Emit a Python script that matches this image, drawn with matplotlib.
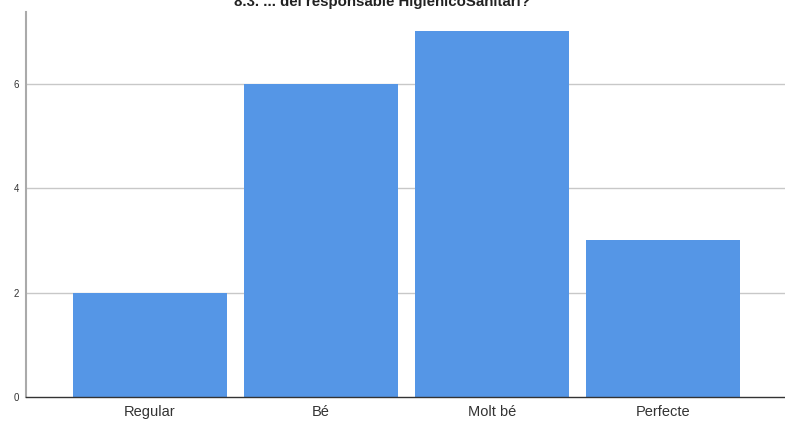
import matplotlib
matplotlib.use("Agg")
import matplotlib.pyplot as plt

# data
categories = ['Regular', 'Bé', 'Molt bé', 'Perfecte']
counts = [2, 6, 7, 3]
yticks = [0, 2, 4, 6]
title = '8.3. ... del responsable HigienicoSanitari?'

plt.rcParams['font.family'] = ['Liberation Sans', 'DejaVu Sans']

fig = plt.figure(figsize=(7.85, 4.21), dpi=100)
ax = fig.add_axes([26/785, 24/421, 1 - 26/785, (397-12)/421])

x = range(len(categories))
ax.bar(x, counts, width=0.9, color='#5596e6', zorder=2)

ax.set_xlim(-0.725, 3.713)
ax.set_ylim(0, 7.37)
ax.set_yticks(yticks)
ax.set_yticklabels([str(v) for v in yticks], fontsize=7, color='#333333')
ax.set_xticks(list(x))
ax.set_xticklabels(categories, fontsize=10.5, color='#333333')
ax.tick_params(axis='both', length=0)
ax.tick_params(axis='y', pad=5)
ax.tick_params(axis='x', pad=6)

for v in yticks[1:]:
    ax.axhline(v, color='#c8c8c8', lw=1, zorder=1)

for s in ['top', 'right']:
    ax.spines[s].set_visible(False)
ax.spines['left'].set_color('#aaaaaa')
ax.spines['left'].set_linewidth(1.5)
ax.spines['bottom'].set_color('#333333')
ax.spines['bottom'].set_linewidth(1)

fig.text(382/785, 1 - 6/421, title, ha='center', va='baseline',
         fontsize=10.8, fontweight='bold', color='#222222')

fig.savefig('out.png', dpi=100)
